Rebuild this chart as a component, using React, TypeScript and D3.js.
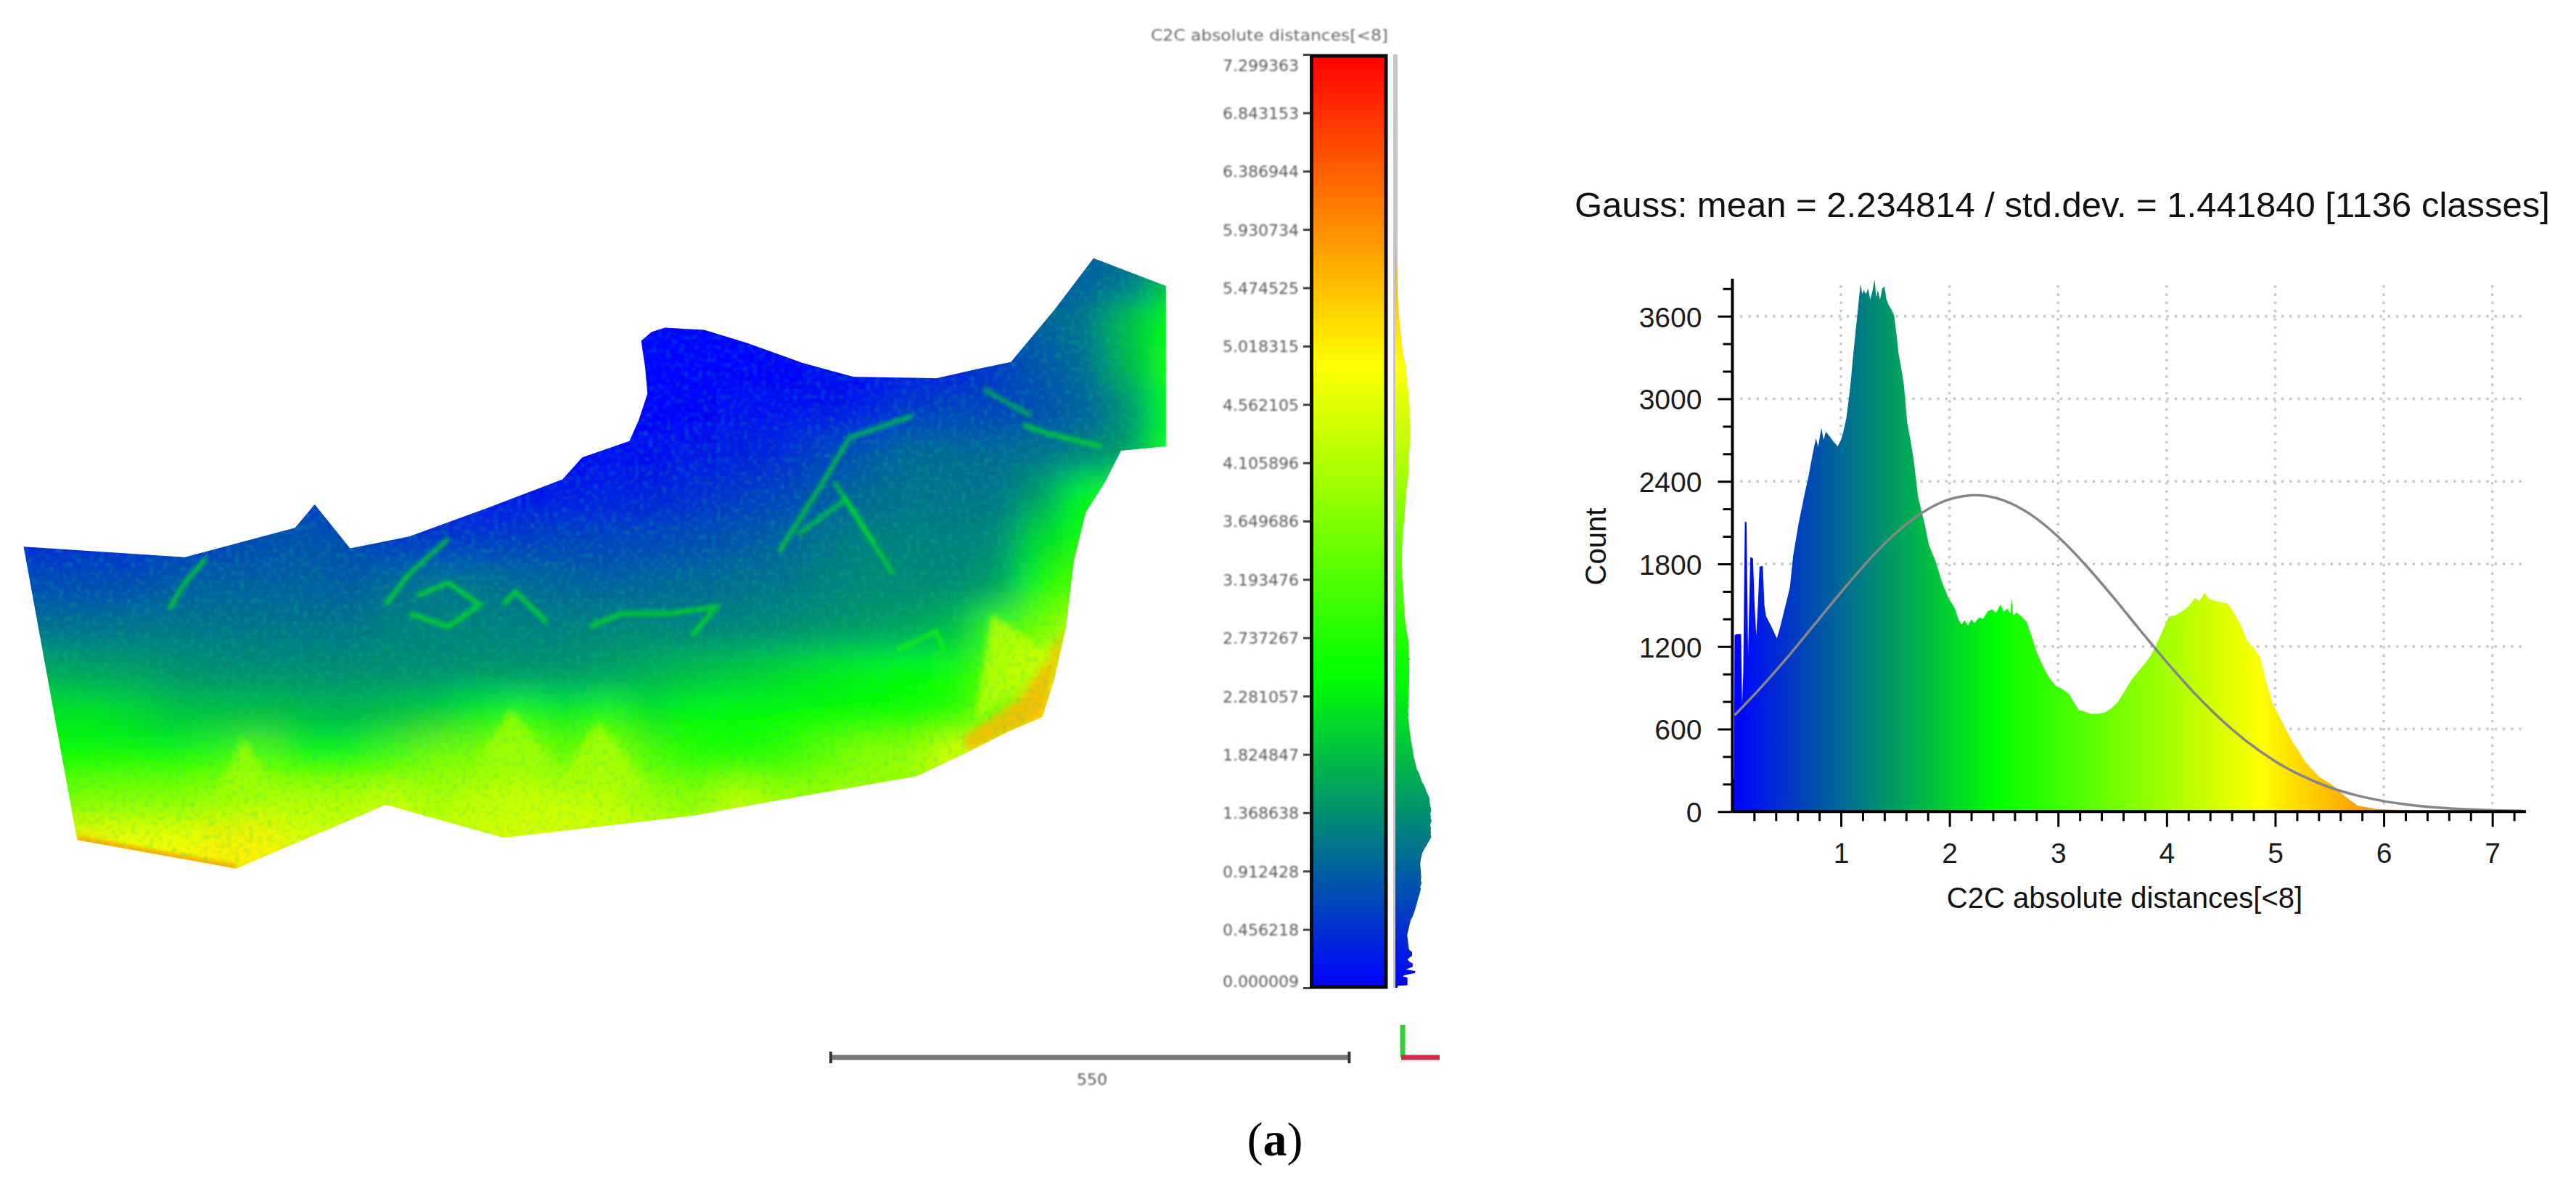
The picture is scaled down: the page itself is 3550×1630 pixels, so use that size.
import * as d3 from "d3";
import React from "react";

const titleText = "Gauss: mean = 2.234814 / std.dev. = 1.441840 [1136 classes]";
const axisTitle = "C2C absolute distances[<8]";
const scaleLabel = "550";
const panelLabel = "a";

const maxDistance = 7.299363;
const colourStops = ["#0000ff", "#00ff00", "#ffff00", "#ff0000"];
const colourPositions = [0, 1 / 3, 2 / 3, 1];

const colourBarTicks = [
  7.299363, 6.843153, 6.386944, 5.930734, 5.474525, 5.018315, 4.562105, 4.105896, 3.649686,
  3.193476, 2.737267, 2.281057, 1.824847, 1.368638, 0.912428, 0.456218, 0.000009,
];

const xMajorTicks = [1, 2, 3, 4, 5, 6, 7];
const xMinorTicks = [
  0.2, 0.4, 0.6, 0.8, 1.2, 1.4, 1.6, 1.8, 2.2, 2.4, 2.6, 2.8, 3.2, 3.4, 3.6, 3.8, 4.2, 4.4, 4.6, 4.8,
  5.2, 5.4, 5.6, 5.8, 6.2, 6.4, 6.6, 6.8, 7.2,
];
const yMajorTicks = [0, 600, 1200, 1800, 2400, 3000, 3600];
const yMinorTicks = [200, 400, 800, 1000, 1400, 1600, 2000, 2200, 2600, 2800, 3200, 3400, 3800];

// histogram outline
const histDistances = [
  0, 0.015, 0.02, 0.035, 0.06, 0.08, 0.09, 0.1, 0.115, 0.13, 0.145, 0.155, 0.165, 0.19, 0.205, 0.22, 0.235, 0.25,
  0.28, 0.295, 0.31, 0.35, 0.38, 0.41, 0.44, 0.47, 0.53, 0.56, 0.61, 0.67, 0.7, 0.73, 0.75, 0.77, 0.79, 0.82, 0.84,
  0.86, 0.89, 0.93, 0.97, 1.0, 1.02, 1.05, 1.07, 1.09, 1.11, 1.13, 1.15, 1.165, 1.18, 1.195, 1.21, 1.23, 1.25, 1.27, 1.29, 1.31,
  1.325, 1.34, 1.36, 1.38, 1.4, 1.42, 1.44, 1.47, 1.49, 1.51, 1.53, 1.56, 1.58, 1.61, 1.64, 1.67, 1.71, 1.77, 1.81, 1.87,
  1.93, 1.99, 2.05, 2.08, 2.11, 2.14, 2.17, 2.2, 2.23, 2.27, 2.31, 2.35, 2.39, 2.43, 2.47, 2.5, 2.53, 2.56, 2.57, 2.585,
  2.62, 2.66, 2.71, 2.75, 2.8, 2.84, 2.89, 2.93, 2.98, 3.04, 3.1, 3.14, 3.19, 3.25, 3.31, 3.37, 3.43, 3.49, 3.55, 3.61,
  3.67, 3.73, 3.79, 3.85, 3.9, 3.96, 4.02, 4.08, 4.14, 4.2, 4.26, 4.3, 4.35, 4.39, 4.44, 4.5, 4.56, 4.6, 4.68, 4.74,
  4.8, 4.86, 4.92, 4.98, 5.07, 5.16, 5.28, 5.4, 5.52, 5.64, 5.76, 5.93, 6.17, 6.5, 6.9, 7.3,
];
const histCounts = [
  230, 240, 1280, 1290, 1290, 1290, 780, 1000, 2110, 2100, 1130, 1500, 1850, 1840, 1500, 1280, 1500, 1780,
  1785, 1500, 1420, 1360, 1310, 1260, 1340, 1436, 1630, 1860, 2094, 2326, 2430, 2560, 2640, 2713, 2650, 2790, 2700,
  2760, 2733, 2690, 2655, 2700, 2752, 2860, 2984, 3120, 3294, 3450, 3604, 3720, 3836, 3760, 3790, 3759, 3800, 3720, 3780, 3867,
  3740, 3790, 3720, 3800, 3817, 3720, 3681, 3640, 3604, 3480, 3333, 3200, 3100, 2830, 2700, 2558, 2288, 2094, 1940, 1823,
  1668, 1552, 1475, 1400, 1359, 1390, 1350, 1397, 1370, 1410, 1400, 1455, 1470, 1445, 1506, 1450, 1475, 1440, 1560, 1430,
  1444, 1420, 1378, 1290, 1165, 1090, 1010, 960, 913, 890, 855, 800, 739, 725, 708, 712, 720, 750, 797, 870,
  952, 1010, 1068, 1130, 1204, 1310, 1417, 1425, 1455, 1490, 1552, 1530, 1591, 1545, 1533, 1520, 1513, 1470, 1359, 1243,
  1190, 1126, 933, 778, 643, 507, 360, 255, 197, 112, 43, 19, 10, 6, 3, 0,
];

// fitted curve, read at every quarter of a unit
const gaussDistances = [
  0.02, 0.25, 0.5, 0.75, 1, 1.25, 1.5, 1.75, 2, 2.25, 2.5, 2.75, 3, 3.25, 3.5, 3.75, 4, 4.25, 4.5, 4.75, 5, 5.25, 5.5, 5.75,
  6, 6.25, 6.5, 6.75, 7, 7.28,
];
const gaussCounts = [
  700, 891, 1115, 1354, 1593, 1822, 2020, 2173, 2270, 2300, 2261, 2158, 1998, 1795, 1566, 1324, 1087, 866, 670, 503, 366, 259, 177, 118,
  76, 48, 29, 17, 10, 5,
];

// terrain: outline, and the distance estimated on a coarse grid over the scene (scene units)
const terrainOutline: [number, number][] = [
  [30, 748], [235, 772], [375, 705], [400, 652], [445, 752], [520, 725], [620, 660], [715, 595], [740, 545], [800, 508], [812, 460], [823, 400],
  [820, 340], [815, 280], [828, 260], [845, 250], [895, 255], [950, 285], [1020, 330], [1085, 362], [1190, 365], [1240, 345], [1285, 328], [1340, 210], [1390, 92],
  [1482, 155], [1482, 520], [1425, 530], [1405, 600], [1380, 670], [1365, 780], [1355, 930], [1340, 1050], [1325, 1135], [1280, 1170], [1230, 1215], [1165, 1270],
  [1020, 1315], [880, 1360], [640, 1410], [490, 1335], [300, 1480], [98, 1415],
];
const bottomEdge: [number, number][] = [[98, 1415], [300, 1480]];
const terrainGrid = [
  [1, 1, 1, 1, 1, 1, 1, 1, 1, 1, 1, 1, 1, 1, 0, 0, 0, 0, 0, 0, 0, 0, 0.8, 0.8, 0.9, 1, 1.8],
  [1, 1, 1, 1, 1, 1, 1, 1, 1, 1, 1, 1, 1, 0, 0, 0, 0, 0, 0, 0, 0.1, 0.3, 0.6, 0.9, 1.1, 1.8, 2.4],
  [1, 1, 1, 1, 1, 1, 1, 1, 1, 1, 1, 1, 0, 0, 0, 0, 0, 0.05, 0.1, 0.1, 0.2, 0.3, 0.5, 0.8, 1, 1.7, 2.5],
  [1, 1, 1, 1, 1, 1, 1, 1, 0.5, 0.3, 0.2, 0.1, 0.05, 0, 0, 0.05, 0.1, 0.1, 0.15, 0.2, 0.5, 0.6, 0.6, 0.7, 0.9, 1.3, 2.4],
  [0.3, 0.3, 0.3, 0.3, 0.3, 0.3, 0.3, 0.3, 0.3, 0.2, 0.15, 0.1, 0.1, 0.1, 0.15, 0.2, 0.3, 0.35, 0.6, 0.8, 1, 1, 1, 1.1, 1.2, 1.5, 2.5],
  [0.3, 0.3, 0.3, 0.3, 0.4, 0.5, 0.5, 0.4, 0.3, 0.2, 0.1, 0.15, 0.2, 0.25, 0.3, 0.4, 0.5, 0.6, 0.8, 1, 1.1, 1.1, 1.1, 1.5, 2.4, 2.7, 2.7],
  [0.35, 0.4, 0.4, 0.5, 0.6, 0.7, 0.8, 0.7, 0.5, 0.5, 0.5, 0.55, 0.6, 0.6, 0.65, 0.7, 0.8, 0.9, 1.1, 1.2, 1.2, 1.2, 1.3, 2.1, 2.6, 2.6, 2.6],
  [0.7, 0.7, 0.7, 0.85, 0.9, 0.9, 0.9, 0.85, 1, 1.1, 1.1, 1, 0.95, 0.9, 0.95, 1, 1.05, 1.1, 1.2, 1.3, 1.3, 1.3, 1.5, 2.5, 3.2, 3.2, 3.2],
  [1.05, 1.05, 1.1, 1.1, 1.1, 1.1, 1.1, 1.1, 1.2, 1.2, 1.2, 1.2, 1.2, 1.25, 1.25, 1.2, 1.25, 1.3, 1.4, 1.45, 1.55, 1.8, 2.9, 3.5, 4.2, 4.2, 4.2],
  [1.6, 1.55, 1.5, 1.4, 1.35, 1.35, 1.35, 1.35, 1.35, 1.35, 1.4, 1.4, 1.4, 1.5, 1.65, 1.8, 1.9, 2.05, 2.2, 2.35, 2.45, 2.5, 3.2, 4.4, 5, 5, 5],
  [2.2, 2.2, 2.1, 1.9, 1.85, 1.85, 1.8, 1.75, 1.85, 2, 2.3, 2.7, 2.3, 2.7, 2.2, 2.4, 2.45, 2.45, 2.45, 2.45, 2.5, 2.8, 3.6, 5.2, 5, 5, 5],
  [2.5, 2.5, 2.6, 2.6, 2.9, 3.3, 2.6, 2.5, 3.1, 3.6, 3.7, 4, 3.4, 3.9, 3.2, 2.8, 2.7, 2.9, 3.4, 3.8, 3.9, 4.6, 5, 5, 5, 5, 5],
  [3.5, 3.7, 3.8, 3.8, 4, 4.2, 4.2, 4.2, 4.4, 4.1, 4.3, 4.4, 4.4, 4.3, 4, 3.8, 4.3, 4, 4, 4, 4, 4, 4, 4, 4, 4, 4],
  [5.2, 5, 4.8, 4.8, 5, 5, 4.6, 4.5, 4.5, 4.5, 4.5, 4.5, 4.5, 4.5, 4.5, 4.5, 4.5, 4.5, 4.5, 4.5, 4.5, 4.5, 4.5, 4.5, 4.5, 4.5, 4.5],
  [5, 5, 5, 5, 5, 5, 5, 5, 5, 5, 5, 5, 5, 5, 5, 5, 5, 5, 5, 5, 5, 5, 5, 5, 5, 5, 5],
];

// bright traces on the terrain: distance, then the points (scene units)
const traceDistances = [2.4, 2.4, 2.5, 2.4, 2.4, 2.3, 2.2, 2.2, 2.4, 2.7, 2.1];
const tracePaths: [number, number][][] = [
  [[215, 890], [235, 830], [262, 775]],
  [[490, 880], [520, 810], [570, 730]],
  [[520, 900], [570, 930], [610, 880], [570, 830], [530, 860]],
  [[640, 880], [655, 850], [695, 920]],
  [[750, 930], [790, 900], [850, 900], [910, 885], [880, 950]],
  [[990, 760], [1050, 590], [1080, 500], [1160, 450]],
  [[1015, 720], [1075, 640], [1135, 810]],
  [[1060, 600], [1110, 740]],
  [[1300, 470], [1330, 490], [1400, 520]],
  [[1140, 985], [1190, 940], [1200, 985]],
  [[1250, 390], [1310, 450]],
];
const peakDistances = [4.0, 4.0, 4.1, 5.6, 4.4];
const peakPaths: [number, number][][] = [
  [[310, 1180], [270, 1330], [355, 1330]],
  [[650, 1115], [595, 1270], [715, 1270]],
  [[760, 1145], [705, 1300], [825, 1300]],
  [[1355, 930], [1325, 1135], [1230, 1215], [1225, 1180], [1300, 1090]],
  [[1260, 900], [1340, 1000], [1240, 1140]],
];

const colourScale = d3.scaleLinear<string>()
  .domain(colourPositions.map((p) => p * maxDistance))
  .range(colourStops)
  .interpolate(d3.interpolateRgb);

const x = d3.scaleLinear().domain([0, 7]).range([2387.4, 3434.7]);
const y = d3.scaleLinear().domain([0, 3600]).range([1118.3, 435.7]);
const barY = d3.scaleLinear().domain([0, maxDistance]).range([1361, 75]);
const barCount = d3.scaleLinear().domain([0, 3870]).range([1923, 1973]);
const sceneX = d3.scaleLinear().domain([0, 1568]).range([0, 1700]);
const sceneY = d3.scaleLinear().domain([0, 1568]).range([300, 1250]);
const rowBand = d3.scaleBand<number>().domain(d3.range(terrainGrid.length)).range([92, 1577]);
const colBand = d3.scaleBand<number>().domain(d3.range(terrainGrid[0].length)).range([30, 1515]);

const sceneLine = d3.line<[number, number]>().x((d) => sceneX(d[0])).y((d) => sceneY(d[1]));

const App: React.FC = () => {
  const ref = React.useRef<SVGSVGElement>(null);

  const histPoints = histDistances.map((d, i) => ({ d, c: histCounts[i] }));
  const gaussPoints = gaussDistances.map((d, i) => ({ d, c: gaussCounts[i] }));

  const histArea = d3.area<{ d: number; c: number }>()
    .x((p) => x(p.d))
    .y0(y(0))
    .y1((p) => y(p.c));
  const gaussLine = d3.line<{ d: number; c: number }>()
    .x((p) => x(p.d))
    .y((p) => y(p.c))
    .curve(d3.curveMonotoneX);
  const sideArea = d3.area<{ d: number; c: number }>()
    .y((p) => barY(p.d))
    .x0(barCount(0))
    .x1((p) => barCount(p.c));

  React.useEffect(() => {
    const svg = d3.select(ref.current);

    // chart axes
    const xAxis = svg.select<SVGGElement>("#x-axis");
    xAxis.selectAll("*").remove();
    xAxis.append("g").call(d3.axisBottom(x).tickValues(xMajorTicks).tickSize(21).tickPadding(22).tickSizeOuter(0).tickFormat(d3.format("d")));
    xAxis.append("g").call(d3.axisBottom(x).tickValues(xMinorTicks).tickSize(13).tickSizeOuter(0).tickFormat(() => ""));
    xAxis.selectAll(".domain").remove();

    const yAxis = svg.select<SVGGElement>("#y-axis");
    yAxis.selectAll("*").remove();
    yAxis.append("g").call(d3.axisLeft(y).tickValues(yMajorTicks).tickSize(20).tickPadding(22).tickSizeOuter(0).tickFormat(d3.format("d")));
    yAxis.append("g").call(d3.axisLeft(y).tickValues(yMinorTicks).tickSize(13).tickSizeOuter(0).tickFormat(() => ""));
    yAxis.selectAll(".domain").remove();

    [xAxis, yAxis].forEach((axis) => {
      axis.selectAll("line").attr("stroke", "#000").attr("stroke-width", 3);
      axis.selectAll("text")
        .attr("font-family", "Liberation Sans")
        .attr("font-size", 39)
        .attr("fill", "#1c1c1c");
    });
    yAxis.selectAll("text").attr("dy", "0.37em");

    // colour bar axis
    const barAxis = svg.select<SVGGElement>("#bar-axis");
    barAxis.selectAll("*").remove();
    barAxis.call(d3.axisLeft(barY).tickValues(colourBarTicks).tickSize(9).tickPadding(6).tickSizeOuter(0).tickFormat((d) => (d as number).toFixed(6)));
    barAxis.select(".domain").remove();
    barAxis.selectAll("line").attr("stroke", "#444").attr("stroke-width", 3);
    barAxis.selectAll<SVGTextElement, number>("text")
      .attr("font-family", "DejaVu Sans")
      .attr("font-size", 22)
      .attr("fill", "#5a5a5a")
      .attr("filter", "url(#soft-text)")
      .attr("dy", (d) => (d === colourBarTicks[0] ? "1.0em" : d === colourBarTicks[16] ? "-0.05em" : "0.36em"));
  }, []);

  const lastCol = terrainGrid[0].length - 1;
  const lastRow = terrainGrid.length - 1;
  const cellW = sceneX(colBand.bandwidth());
  const cellH = sceneY(rowBand.bandwidth()) - sceneY(0);

  return (
    <svg ref={ref} width={3550} height={1630} viewBox="0 0 3550 1630" style={{ position: "absolute", left: 0, top: 0, background: "#fff" }}>
      <defs>
        <linearGradient id="hist-fill" gradientUnits="userSpaceOnUse" x1={x(0)} x2={x(maxDistance)} y1={0} y2={0}>
          {colourStops.map((c, i) => <stop key={c} offset={colourPositions[i]} stopColor={c} />)}
        </linearGradient>
        <linearGradient id="bar-fill" gradientUnits="userSpaceOnUse" x1={0} x2={0} y1={barY(0)} y2={barY(maxDistance)}>
          {colourStops.map((c, i) => <stop key={c} offset={colourPositions[i]} stopColor={c} />)}
        </linearGradient>
        <filter id="terrain-blur" filterUnits="userSpaceOnUse" x={-200} y={100} width={2100} height={1400}>
          <feGaussianBlur stdDeviation={22} />
        </filter>
        <filter id="feature-blur" filterUnits="userSpaceOnUse" x={-100} y={200} width={1900} height={1200}>
          <feGaussianBlur stdDeviation={5} />
        </filter>
        <filter id="trace-blur" filterUnits="userSpaceOnUse" x={-100} y={200} width={1900} height={1200}>
          <feGaussianBlur stdDeviation={2.5} />
        </filter>
        <filter id="speckle" filterUnits="userSpaceOnUse" x={0} y={300} width={1700} height={950}>
          <feTurbulence type="fractalNoise" baseFrequency={0.16} numOctaves={2} seed={4} />
          <feColorMatrix type="matrix" values="0 0 0 0 0  0 0 0 0 0.7  0 0 0 0 0.2  3.2 0 0 0 -1.55" />
          <feGaussianBlur stdDeviation={1.5} />
        </filter>
        <filter id="soft-text" x="-5%" y="-20%" width="110%" height="140%">
          <feGaussianBlur stdDeviation={0.8} />
        </filter>
        <clipPath id="terrain-clip">
          <path d={(sceneLine(terrainOutline) ?? "") + "Z"} />
        </clipPath>
      </defs>

      {/* terrain */}
      <g clipPath="url(#terrain-clip)">
        <g filter="url(#terrain-blur)">
          {terrainGrid.map((row, r) => row.map((v, c) => {
            // border cells run on past the scene so the blur does not fade at the outline
            const padL = c === 0 ? 120 : 0;
            const padR = c === lastCol ? 120 : 0;
            const padT = r === 0 ? 120 : 0;
            const padB = r === lastRow ? 120 : 0;
            return (
              <rect
                key={`${r}-${c}`}
                x={sceneX(colBand(c) as number) - padL}
                y={sceneY(rowBand(r) as number) - padT}
                width={cellW + 1 + padL + padR}
                height={cellH + 1 + padT + padB}
                fill={colourScale(v)}
              />
            );
          }))}
        </g>
        <g filter="url(#feature-blur)">
          {peakPaths.map((p, i) => (
            <path key={i} d={(sceneLine(p) ?? "") + "Z"} fill={colourScale(peakDistances[i])} fillOpacity={0.75} />
          ))}
        </g>
        <g filter="url(#trace-blur)">
          {tracePaths.map((p, i) => (
            <path key={i} d={sceneLine(p) ?? ""} fill="none" stroke={colourScale(traceDistances[i])} strokeWidth={7} strokeOpacity={0.6} />
          ))}
          <path d={sceneLine(bottomEdge) ?? ""} fill="none" stroke={colourScale(5.6)} strokeWidth={12} />
        </g>
        <rect x={0} y={300} width={1700} height={950} filter="url(#speckle)" opacity={0.3} />
      </g>

      {/* colour bar */}
      <g>
        <text x={1586} y={56} textLength={327} lengthAdjust="spacingAndGlyphs" fontFamily="DejaVu Sans" fontSize={21} fill="#666" filter="url(#soft-text)">{axisTitle}</text>
        <g id="bar-axis" transform="translate(1805,0)" />
        <rect x={1807.5} y={77} width={102.5} height={1283} fill="url(#bar-fill)" stroke="#0c0c0c" strokeWidth={5} />
        <line x1={1923} x2={1923} y1={barY(maxDistance)} y2={barY(0)} stroke="#c9c4c9" strokeWidth={6} />
        <path d={sideArea(histPoints) ?? ""} fill="url(#bar-fill)" />
      </g>

      {/* scale bar and axes marker */}
      <g>
        <line x1={sceneX(1056)} x2={sceneX(1715)} y1={1457} y2={1457} stroke="#777" strokeWidth={7} />
        <line x1={sceneX(1056)} x2={sceneX(1056)} y1={1449} y2={1465} stroke="#333" strokeWidth={4} />
        <line x1={sceneX(1715)} x2={sceneX(1715)} y1={1449} y2={1465} stroke="#333" strokeWidth={4} />
        <text x={1505} y={1495} textAnchor="middle" fontFamily="DejaVu Sans" fontSize={22} fill="#555" filter="url(#soft-text)">{scaleLabel}</text>
        <line x1={1933} x2={1933} y1={1412} y2={1457} stroke="#35d035" strokeWidth={7} />
        <line x1={1931} x2={1984} y1={1457} y2={1457} stroke="#cf2a48" strokeWidth={7} />
      </g>

      <text x={1757} y={1592} textAnchor="middle" fontFamily="Liberation Serif" fontSize={66} fill="#000">
        (<tspan fontWeight="bold">{panelLabel}</tspan>)
      </text>

      {/* histogram chart */}
      <text x={2170} y={299} textLength={1344} lengthAdjust="spacingAndGlyphs" fontFamily="Liberation Sans" fontSize={49} fill="#111">{titleText}</text>
      <g stroke="#c8c8c8" strokeWidth={3.4} strokeDasharray="3.4 7.9">
        {yMajorTicks.slice(1).map((t) => <line key={t} x1={2398} x2={3477} y1={y(t)} y2={y(t)} />)}
        {xMajorTicks.map((t) => <line key={t} x1={x(t)} x2={x(t)} y1={393} y2={1110} />)}
      </g>
      <path d={histArea(histPoints) ?? ""} fill="url(#hist-fill)" />
      <path d={gaussLine(gaussPoints) ?? ""} fill="none" stroke="#868686" strokeWidth={3.5} />
      <g id="x-axis" transform={`translate(0,${y(0)})`} />
      <g id="y-axis" transform={`translate(${x(0)},0)`} />
      <line x1={x(0)} x2={3481} y1={y(0)} y2={y(0)} stroke="#000" strokeWidth={4} />
      <line x1={x(0)} x2={x(0)} y1={384} y2={y(0)} stroke="#000" strokeWidth={4} />
      <text x={2928} y={1251} textAnchor="middle" fontFamily="Liberation Sans" fontSize={40} fill="#111">{axisTitle}</text>
      <text transform={`translate(2213,753) rotate(-90)`} textAnchor="middle" fontFamily="Liberation Sans" fontSize={40} fill="#111">Count</text>
    </svg>
  );
};

export default App;
